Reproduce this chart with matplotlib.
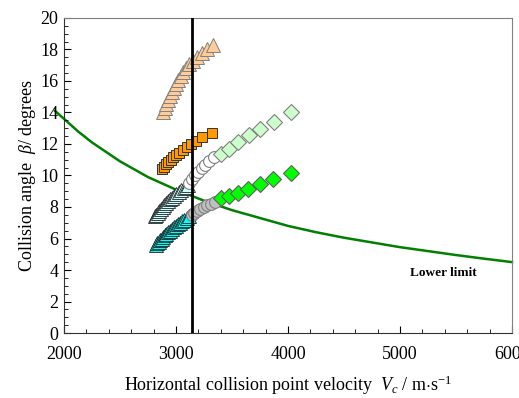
import matplotlib
matplotlib.use("Agg")
import matplotlib.pyplot as plt
from matplotlib.ticker import MultipleLocator

plt.rcParams['font.family'] = ['Liberation Serif', 'DejaVu Serif']
plt.rcParams['mathtext.fontset'] = 'custom'
plt.rcParams['mathtext.rm'] = 'Liberation Serif'
plt.rcParams['mathtext.it'] = 'Liberation Serif:italic'

# lower limit curve
limit_v = [1920, 2000, 2125, 2250, 2375, 2500, 2625, 2750, 2875, 3000, 3125, 3250, 3375, 3500,
           3750, 4000, 4250, 4500, 4750, 5000, 5250, 5500, 5750, 6000]
limit_b = [14.1, 13.6, 12.8, 12.1, 11.5, 10.9, 10.4, 9.9, 9.5, 9.1, 8.75, 8.4, 8.1, 7.8,
           7.3, 6.8, 6.4, 6.05, 5.75, 5.45, 5.2, 4.95, 4.72, 4.5]

# peach triangles
peach_v = [2887, 2900, 2915, 2930, 2946, 2963, 2981, 3000, 3020, 3042, 3066, 3092, 3120, 3152, 3188, 3228, 3276, 3333]
peach_b = [14.05, 14.3, 14.55, 14.8, 15.05, 15.3, 15.55, 15.8, 16.05, 16.3, 16.55, 16.8, 17.05, 17.3, 17.55, 17.8, 18.05, 18.3]

# orange squares
orange_v = [2872, 2890, 2910, 2931, 2953, 2977, 3003, 3031, 3062, 3096, 3134, 3178, 3230, 3322]
orange_b = [10.4, 10.55, 10.7, 10.85, 11.0, 11.15, 11.3, 11.45, 11.6, 11.8, 12.0, 12.2, 12.45, 12.7]

# light blue triangles -> white circles -> light green diamonds
ltri_v = [2812, 2825, 2838, 2852, 2866, 2881, 2896, 2912, 2928, 2945, 2963, 2982, 3002, 3023, 3045, 3068, 3090, 3110]
ltri_b = [7.4, 7.52, 7.64, 7.76, 7.88, 8.0, 8.12, 8.24, 8.36, 8.48, 8.6, 8.72, 8.84, 8.96, 9.08, 9.2, 9.3, 9.4]
wcirc_v = [3120, 3145, 3172, 3200, 3230, 3262, 3296, 3340]
wcirc_b = [9.55, 9.8, 10.0, 10.2, 10.45, 10.65, 10.9, 11.15]
ldia_v = [3402, 3476, 3556, 3654, 3753, 3875, 4024]
ldia_b = [11.38, 11.71, 12.13, 12.55, 12.97, 13.42, 14.03]

# cyan triangles -> gray circles -> green diamonds
ctri_v = [2821, 2833, 2845, 2858, 2871, 2885, 2899, 2914, 2929, 2945, 2961, 2978, 2996, 3014, 3033, 3053, 3074, 3096, 3120]
ctri_b = [5.6, 5.7, 5.8, 5.9, 6.0, 6.1, 6.2, 6.3, 6.4, 6.5, 6.6, 6.7, 6.8, 6.9, 7.0, 7.1, 7.2, 7.3, 7.4]
gcirc_v = [3140, 3165, 3190, 3218, 3248, 3280, 3315, 3350]
gcirc_b = [7.5, 7.62, 7.74, 7.86, 7.98, 8.1, 8.22, 8.34]
gdia_v = [3402, 3470, 3556, 3645, 3750, 3869, 4024]
gdia_b = [8.55, 8.70, 8.91, 9.16, 9.46, 9.80, 10.14]

vline_v = 3145

fig = plt.figure(figsize=(5.19, 3.98), dpi=100)
ax = fig.add_axes([0.1233, 0.1633, 0.8632, 0.7915])

ax.plot(limit_v, limit_b, color='#008000', lw=1.8, clip_on=False, zorder=1)

ax.plot(peach_v, peach_b, ls='none', marker='^', ms=10, mfc='#FFCC99', mec='#808080', mew=0.7, zorder=3)
ax.plot(orange_v, orange_b, ls='none', marker='s', ms=7.5, mfc='#FF9900', mec='#333333', mew=0.7, zorder=3)
ax.plot(ltri_v, ltri_b, ls='none', marker='^', ms=10, mfc='#CCFFFF', mec='#222222', mew=0.6, zorder=3)
ax.plot(wcirc_v, wcirc_b, ls='none', marker='o', ms=8.5, mfc='white', mec='#808080', mew=0.8, zorder=3)
ax.plot(ldia_v, ldia_b, ls='none', marker='D', ms=8, mfc='#CCFFCC', mec='#808080', mew=0.8, zorder=3)
ax.plot(ctri_v, ctri_b, ls='none', marker='^', ms=10, mfc='#00FFFF', mec='#222222', mew=0.6, zorder=3)
ax.plot(gcirc_v, gcirc_b, ls='none', marker='o', ms=8.5, mfc='#C0C0C0', mec='#808080', mew=0.8, zorder=3)
ax.plot(gdia_v, gdia_b, ls='none', marker='D', ms=8, mfc='#00FF00', mec='#606060', mew=0.8, zorder=3)

ax.axvline(vline_v, color='black', lw=2, zorder=4)

ax.text(5384, 3.8, 'Lower limit', fontsize=9.5, fontweight='bold', ha='center', va='center')

ax.set_xlim(2000, 6000)
ax.set_ylim(0, 20)
ax.xaxis.set_major_locator(MultipleLocator(1000))
ax.xaxis.set_minor_locator(MultipleLocator(200))
ax.yaxis.set_major_locator(MultipleLocator(2))
ax.yaxis.set_minor_locator(MultipleLocator(0.5))
ax.tick_params(which='both', direction='in', top=False, right=False, labelsize=13)
ax.tick_params(which='major', length=5)
ax.tick_params(which='minor', length=3)
ax.tick_params(axis='x', which='major', pad=9)
ax.tick_params(axis='y', which='major', pad=4)

for s in ['top', 'right']:
    ax.spines[s].set_color('#808080')
for s in ['left', 'bottom']:
    ax.spines[s].set_color('#333333')

ax.set_xlabel(r'Horizontal collision point velocity  $V_c$ / m$\cdot$s$^{\mathregular{-1}}$', fontsize=13, labelpad=8)
ax.set_ylabel(r'Collision angle  $\beta$/ degrees', fontsize=13, labelpad=2)

fig.savefig('out.png', dpi=100)
